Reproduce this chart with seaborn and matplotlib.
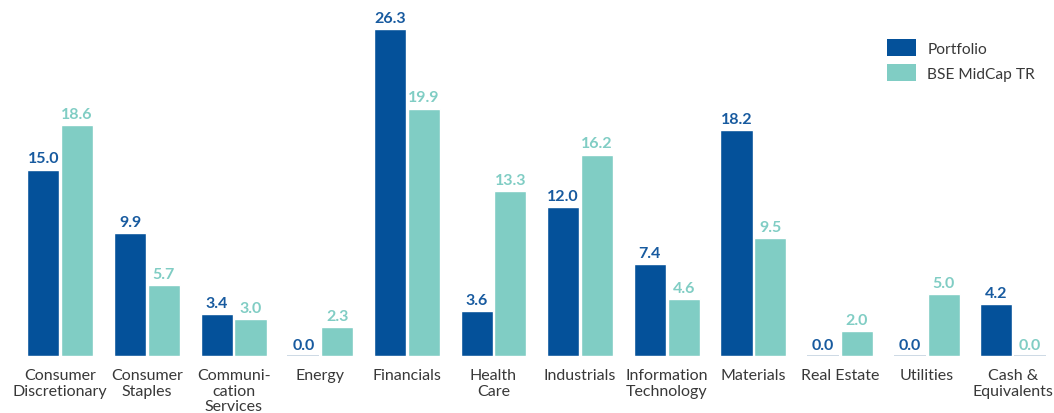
import matplotlib
matplotlib.use("Agg")
import matplotlib.pyplot as plt
import seaborn as sns
import pandas as pd
from matplotlib.patches import Patch

categories = ["Consumer\nDiscretionary", "Consumer\nStaples", "Communi-\ncation\nServices",
              "Energy", "Financials", "Health\nCare", "Industrials", "Information\nTechnology",
              "Materials", "Real Estate", "Utilities", "Cash &\nEquivalents"]
portfolio = [15.0, 9.9, 3.4, 0.0, 26.3, 3.6, 12.0, 7.4, 18.2, 0.0, 0.0, 4.2]
benchmark = [18.6, 5.7, 3.0, 2.3, 19.9, 13.3, 16.2, 4.6, 9.5, 2.0, 5.0, 0.0]
series = ["Portfolio", "BSE MidCap TR"]

dark = "#04519A"
light = "#80CDC4"
dark_lbl = "#175A9F"
light_lbl = "#80CDC4"

df = pd.DataFrame({
    "Sector": categories * 2,
    "Value": portfolio + benchmark,
    "Series": [series[0]] * len(categories) + [series[1]] * len(categories),
})

sns.set_theme(style="white")
plt.rcParams["font.family"] = ["Lato", "DejaVu Sans"]

fig = plt.figure(figsize=(10.54, 4.14), dpi=100)
ax = fig.add_axes([0, 57 / 414, 1, 357 / 414])

sns.barplot(data=df, x="Sector", y="Value", hue="Series", order=categories,
            hue_order=series, palette=[dark, light], width=0.78, gap=0.05,
            saturation=1, ax=ax, legend=False)

ppu = 86.64
ax.set_xlim(-60.3 / ppu, 11 + (1054 - 1013.3) / ppu)
ax.set_ylim(0, 357 / 12.43)

for cont, col in zip(ax.containers, [dark_lbl, light_lbl]):
    for p in cont:
        if p.get_height() == 0:
            p.set_edgecolor("#C5D3E0")
            p.set_linewidth(1.2)
    ax.bar_label(cont, fmt="%.1f", padding=3, color=col, fontsize=11.5,
                 fontweight="bold")

ax.set_xlabel("")
ax.set_ylabel("")
ax.set_yticks([])
ax.tick_params(axis="x", length=0, pad=9, labelsize=11.5, labelcolor="#383838")
for lab in ax.get_xticklabels():
    lab.set_linespacing(1.13)
sns.despine(ax=ax, left=True, bottom=True)

handles = [Patch(facecolor=dark, edgecolor="none"), Patch(facecolor=light, edgecolor="none")]
fig.legend(handles, series, loc="upper left", bbox_to_anchor=(879 / 1054, 1 - 32 / 414),
           frameon=False, borderpad=0, fontsize=11.2, handlelength=1.85, handleheight=1.33,
           labelspacing=0.5, handletextpad=0.75, labelcolor="#383838")

fig.savefig("out.png", dpi=100)
